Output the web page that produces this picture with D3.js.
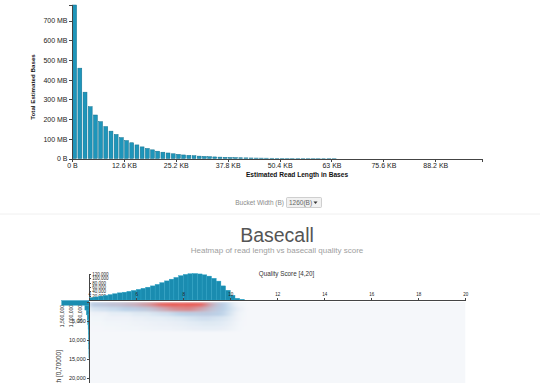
<!DOCTYPE html>
<meta charset="utf-8">
<style>
body { margin: 0; background: #fff; }
svg { font-family: "Liberation Sans", Arial, sans-serif; }
.axis path, .axis line { stroke: #444; fill: none; shape-rendering: crispEdges; }
.axis text { fill: #222; }
.bar { fill: #1e95ba; stroke: #11708e; stroke-width: 0.5px; }
.mbar { fill: #1a8cb0; stroke: #2aa2c5; stroke-width: 0.4px; }
.label { font-weight: bold; fill: #111; }
</style>
<svg id="chart" width="540" height="383"></svg>
<script src="https://d3js.org/d3.v7.min.js"></script>
<script>
// read length histogram: total bases per bucket, in MB
var bucketWidth = 1260;
var bucketCount = 79;
var bucketBases = [780, 459, 337, 263, 221, 187, 162, 139, 122, 106, 91, 80, 69, 59, 51, 44,
  37, 32, 28, 24, 21, 18, 16, 14, 12, 10.5, 9, 8, 7, 6, 5.2, 4.5, 3.8, 3.2, 2.7, 2.3, 2,
  1.7, 1.4, 1.2, 1, 0.8, 0.7, 0.6, 0.5, 0.4, 0.3, 0.3, 0.2, 0.2, 0.1];
var lengthTicks = [0, 12600, 25200, 37800, 50400, 63000, 75600, 88200];
var basesTicks = [0, 1e8, 2e8, 3e8, 4e8, 5e8, 6e8, 7e8];

// basecall heatmap: quality bins of 0.2 starting at 4, read length rows of 1260
var qualityStep = 0.2;
var qualityTicks = [4, 6, 8, 10, 12, 14, 16, 18, 20];
var qualityTotals = [11, 14, 18, 21, 25, 29, 33, 36, 40, 44, 49, 54, 59, 65, 72, 80, 88, 96,
  104, 112, 118, 121, 122, 120, 116, 110, 100, 87, 65, 45, 22, 8, 3]; // thousands of reads
var qualityTotalTicks = [20000, 40000, 60000, 80000, 100000, 120000];
var lengthTotals = [1520, 230, 150, 100, 70, 50, 35, 25, 18, 12, 8, 5]; // thousands of reads
var lengthTotalTicks = [500000, 1000000, 1500000];
var heatLengthTicks = [5000, 10000, 15000, 20000];
var heatRows = [
  [10, 12, 14, 16, 18, 20, 22, 25, 28, 32, 37, 43, 50, 60, 72, 85, 95, 105, 112, 118, 120, 118, 110, 95, 70, 45, 28, 16, 10, 6, 3, 1, 0.5],
  [4, 4, 5, 5, 6, 6, 7, 8, 9, 10, 12, 14, 17, 22, 28, 36, 45, 52, 58, 62, 64, 62, 55, 45, 35, 25, 18, 12, 9, 6, 4, 2, 1],
  [1, 1, 1, 1, 2, 2, 2, 2, 2, 3, 3, 3, 3, 4, 4, 5, 5, 6, 7, 8, 9, 10, 11, 12, 12, 12, 11, 9, 7, 5, 3, 1, 0.5],
  [0.5, 0.5, 0.5, 1, 1, 1, 1, 1, 1, 1.5, 1.5, 1.5, 2, 2, 2, 2, 2.5, 2.5, 3, 3, 3.5, 4, 4.5, 5, 5, 5, 4.5, 4, 3.5, 3, 2, 1, 0.3],
  [0.3, 0.3, 0.3, 0.5, 0.5, 0.5, 0.6, 0.6, 0.7, 0.8, 0.9, 1, 1.1, 1.2, 1.3, 1.4, 1.5, 1.6, 1.8, 2, 2.2, 2.4, 2.6, 2.8, 3, 3, 3, 2.8, 2.4, 2, 1.3, 0.6, 0.2],
  [0.2, 0.2, 0.2, 0.3, 0.3, 0.3, 0.4, 0.4, 0.5, 0.5, 0.6, 0.7, 0.8, 0.8, 0.9, 1, 1, 1.1, 1.2, 1.3, 1.5, 1.6, 1.8, 1.9, 2, 2, 2, 1.9, 1.6, 1.3, 0.9, 0.4, 0.1]
];

var svg = d3.select("#chart");

// ---------- read length histogram ----------
var x = d3.scaleLinear().domain([0, bucketCount * bucketWidth]).range([72, 482]);
var y = d3.scaleLinear().domain([0, d3.max(bucketBases) * 1e6]).range([158.5, 5]);
var bw = x(bucketWidth) - x(0);

svg.selectAll(".bar")
    .data(bucketBases)
  .enter().append("rect")
    .attr("class", "bar")
    .attr("x", function(d, i) { return x(i * bucketWidth) + 0.7; })
    .attr("width", bw - 1.3)
    .attr("y", function(d) { return y(d * 1e6); })
    .attr("height", function(d) { return y(0) - y(d * 1e6); });

svg.append("g")
    .attr("class", "axis")
    .attr("transform", "translate(0," + y(0) + ")")
    .style("font-size", "7px")
    .call(d3.axisBottom(x).tickValues(lengthTicks).tickSize(3).tickPadding(2)
      .tickFormat(function(d) { return d === 0 ? "0 B" : +(d / 1000).toFixed(1) + " KB"; }));

svg.append("g")
    .attr("class", "axis")
    .attr("transform", "translate(72,0)")
    .style("font-size", "7px")
    .call(d3.axisLeft(y).tickValues(basesTicks).tickSize(3).tickPadding(1.5)
      .tickFormat(function(d) { return d === 0 ? "0 B" : (d / 1e6) + " MB"; }));

svg.append("text")
    .attr("class", "label")
    .attr("text-anchor", "middle")
    .attr("transform", "translate(35,87)rotate(-90)")
    .style("font-size", "6.2px")
    .text("Total Estimated Bases");

svg.append("text")
    .attr("class", "label")
    .attr("text-anchor", "middle")
    .attr("x", 297).attr("y", 177)
    .style("font-size", "6.6px")
    .text("Estimated Read Length in Bases");

// bucket width control
var ctl = svg.append("g");
ctl.append("text")
    .attr("x", 284).attr("y", 205)
    .attr("text-anchor", "end")
    .style("font-size", "6.5px").style("fill", "#8a8a8a")
    .text("Bucket Width (B)");
ctl.append("rect")
    .attr("x", 286.5).attr("y", 197.5).attr("width", 35).attr("height", 10).attr("rx", 1)
    .style("fill", "#f1f1f1").style("stroke", "#bdbdbd").style("stroke-width", 0.7);
ctl.append("text")
    .attr("x", 289).attr("y", 205)
    .style("font-size", "6.5px").style("fill", "#666")
    .text(bucketWidth + "(B)");
ctl.append("path")
    .attr("d", "M313.5,201.5h4l-2,2.6z")
    .style("fill", "#333");

svg.append("line")
    .attr("x1", 0).attr("x2", 540).attr("y1", 214).attr("y2", 214)
    .style("stroke", "#f0f0f0");

svg.append("text")
    .attr("x", 277).attr("y", 242)
    .attr("text-anchor", "middle")
    .style("font-size", "19.5px").style("fill", "#555")
    .text("Basecall");
svg.append("text")
    .attr("x", 277).attr("y", 253)
    .attr("text-anchor", "middle")
    .style("font-size", "8px").style("fill", "#a0a0a0")
    .text("Heatmap of read length vs basecall quality score");

svg.append("text")
    .attr("x", 286.5).attr("y", 276)
    .attr("text-anchor", "middle")
    .style("font-size", "6.3px").style("fill", "#333")
    .text("Quality Score [4,20]");

// ---------- heatmap ----------
var qx = d3.scaleLinear().domain([4, 20]).range([89.3, 465.3]);
var ly = d3.scaleLinear().domain([0, 70000]).range([302, 568]);
var color = d3.scaleLinear().domain([0, 8000, 90000])
    .range(["#f5f7fa", "#b9d1e8", "#e8605a"]).clamp(true);
var cw = qx(4 + qualityStep) - qx(4), ch = ly(bucketWidth) - ly(0);

var defs = svg.append("defs");
defs.append("clipPath").attr("id", "plot")
  .append("rect").attr("x", qx(4)).attr("y", ly(0))
    .attr("width", qx(20) - qx(4)).attr("height", ly(70000) - ly(0));
defs.append("filter").attr("id", "blur")
    .attr("x", "-5%").attr("y", "-5%").attr("width", "110%").attr("height", "110%")
  .append("feGaussianBlur").attr("stdDeviation", "2.6 1.3");

var cells = [];
heatRows.forEach(function(row, r) {
  row.forEach(function(v, c) { cells.push({ r: r, c: c, v: v }); });
});

var heat = svg.append("g").attr("clip-path", "url(#plot)")
  .append("g").attr("filter", "url(#blur)");
heat.append("rect")
    .attr("x", qx(4) - 10).attr("y", ly(0) - 10)
    .attr("width", qx(20) - qx(4) + 20).attr("height", ly(70000) - ly(0) + 20)
    .style("fill", color(0));
heat.selectAll(".cell")
    .data(cells)
  .enter().append("rect")
    .attr("class", "cell")
    .attr("x", function(d) { return qx(4 + d.c * qualityStep); })
    .attr("y", function(d) { return ly(d.r * bucketWidth); })
    .attr("width", cw + 0.2)
    .attr("height", ch + 0.2)
    .style("fill", function(d) { return color(d.v * 1000); });

// top marginal: reads per quality bin
var my = d3.scaleLinear().domain([0, 122000]).range([300, 273.5]);
svg.append("g")
    .attr("class", "axis")
    .attr("transform", "translate(" + qx(4) + ",0)")
    .style("font-size", "4.5px")
    .call(d3.axisRight(my).tickValues(qualityTotalTicks).tickSize(1.5).tickPadding(1.5)
      .tickFormat(d3.format(",")));

svg.selectAll(".qbar")
    .data(qualityTotals)
  .enter().append("rect")
    .attr("class", "mbar")
    .attr("x", function(d, i) { return qx(4 + i * qualityStep); })
    .attr("width", cw)
    .attr("y", function(d) { return my(d * 1000); })
    .attr("height", function(d) { return my(0) - my(d * 1000); });

// left marginal: reads per read length row
var mx = d3.scaleLinear().domain([0, 1500000]).range([89, 62]);
svg.selectAll(".lbar")
    .data(lengthTotals)
  .enter().append("rect")
    .attr("class", "mbar")
    .attr("x", function(d) { return mx(d * 1000); })
    .attr("width", function(d) { return mx(0) - mx(d * 1000); })
    .attr("y", function(d, i) { return ly(i * bucketWidth) - 1.5; })
    .attr("height", ch);

var lax = svg.append("g")
    .attr("class", "axis")
    .attr("transform", "translate(0,304)")
    .style("font-size", "5px")
    .call(d3.axisBottom(mx).tickValues(lengthTotalTicks).tickSize(0)
      .tickFormat(d3.format(",")));
lax.select(".domain").remove();
lax.selectAll("text")
    .attr("x", -1).attr("y", 0).attr("dy", "0.35em")
    .attr("transform", "rotate(-90)")
    .style("text-anchor", "end");

// heatmap axes
svg.append("g")
    .attr("class", "axis")
    .attr("transform", "translate(0,300)")
    .style("font-size", "4.5px")
    .call(d3.axisTop(qx).tickValues(qualityTicks).tickSize(2.5).tickPadding(1.5));

svg.append("g")
    .attr("class", "axis")
    .attr("transform", "translate(" + qx(4) + ",0)")
    .style("font-size", "5.5px")
    .call(d3.axisLeft(ly).tickValues(heatLengthTicks).tickSize(2).tickPadding(1.5)
      .tickFormat(d3.format(",")));

svg.append("text")
    .attr("text-anchor", "end")
    .attr("transform", "translate(61,350)rotate(-90)")
    .style("font-size", "6.5px").style("fill", "#333")
    .text("Read Length [0,70000]");
</script>
